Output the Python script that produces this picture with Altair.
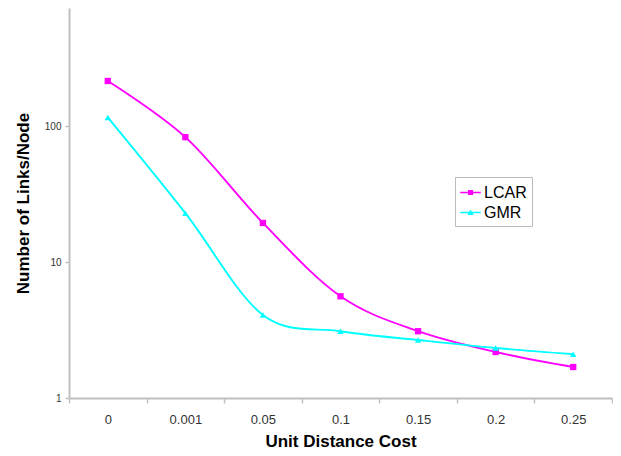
import altair as alt
import pandas as pd

categories = ["0", "0.001", "0.05", "0.1", "0.15", "0.2", "0.25"]
lcar = [215, 83, 19.4, 5.6, 3.1, 2.18, 1.69]
gmr = [116, 22.9, 4.08, 3.1, 2.67, 2.33, 2.1]
series_names = ["LCAR", "GMR"]
colors = ["#ff00ff", "#00ffff"]
marker_shapes = ["square", "triangle-up"]

rows = []
for name, vals in zip(series_names, [lcar, gmr]):
    for c, v in zip(categories, vals):
        rows.append({"cost": c, "links": v, "series": name})
df = pd.DataFrame(rows)

FONT = "Liberation Sans"

x = alt.X("cost:N", sort=categories, title="Unit Distance Cost",
          scale=alt.Scale(paddingInner=0, paddingOuter=0),
          axis=alt.Axis(labelAngle=0, tickBand="extent", labelFontSize=13, labelColor="#333333",
                        labelPadding=10, tickSize=5, titlePadding=7, titleFontSize=17,
                        titleFontWeight="bold", titleColor="#000000"))
y = alt.Y("links:Q", title="Number of Links/Node",
          scale=alt.Scale(type="log", domain=[1, 740], nice=False),
          axis=alt.Axis(values=[1, 10, 100], format="d", grid=False, labelFontSize=10,
                        labelColor="#333333", tickSize=4, labelPadding=4, titlePadding=12,
                        titleFontSize=17, titleFontWeight="bold", titleColor="#000000"))
color_scale = alt.Scale(domain=series_names, range=colors)

leg = alt.Legend(title=None, orient="none", legendX=386, legendY=169,
                 strokeColor="#bbbbbb", padding=5, labelFontSize=16,
                 labelFont=FONT, labelColor="#000000", symbolSize=420,
                 symbolOpacity=1, rowPadding=1, labelOffset=3, symbolStrokeWidth=0)

color_enc = alt.Color("series:N", sort=series_names, scale=color_scale, legend=leg)

base = alt.Chart(df)

lines = base.mark_line(interpolate="cardinal", tension=0, strokeWidth=1.9).encode(
    x=x, y=y, color=color_enc, detail="series:N")

point_layers = []
for name, shp in zip(series_names, marker_shapes):
    point_layers.append(
        base.transform_filter(alt.datum.series == name).mark_point(
            filled=True, size=40, opacity=1, shape=shp).encode(
            x=x, y=y, color=color_enc))

legend_sym = base.mark_point(filled=True, opacity=0).encode(
    x=x, y=y,
    color=color_enc,
    shape=alt.Shape("series:N", sort=series_names,
                    scale=alt.Scale(domain=series_names,
                                    range=["M-1,-0.08H1V0.08H-1Z M-0.25,-0.25H0.25V0.25H-0.25Z",
                                           "M-1,-0.08H1V0.08H-1Z M0,-0.3L0.3,0.24H-0.3Z"]),
                    legend=leg))

chart = alt.layer(lines, *point_layers, legend_sym).properties(
    width=543, height=390,
    background="white",
    autosize=alt.AutoSizeParams(type="none"),
    padding={"left": 61, "top": 0, "right": 1, "bottom": 56},
).configure_view(stroke="transparent", strokeWidth=0).configure_axis(
    domainColor="#c0c0c0", domainWidth=2, tickColor="#c0c0c0", tickWidth=1.5,
    labelFont=FONT, titleFont=FONT
)

chart.save("out.html", embed_options={"renderer": "svg", "actions": False})
